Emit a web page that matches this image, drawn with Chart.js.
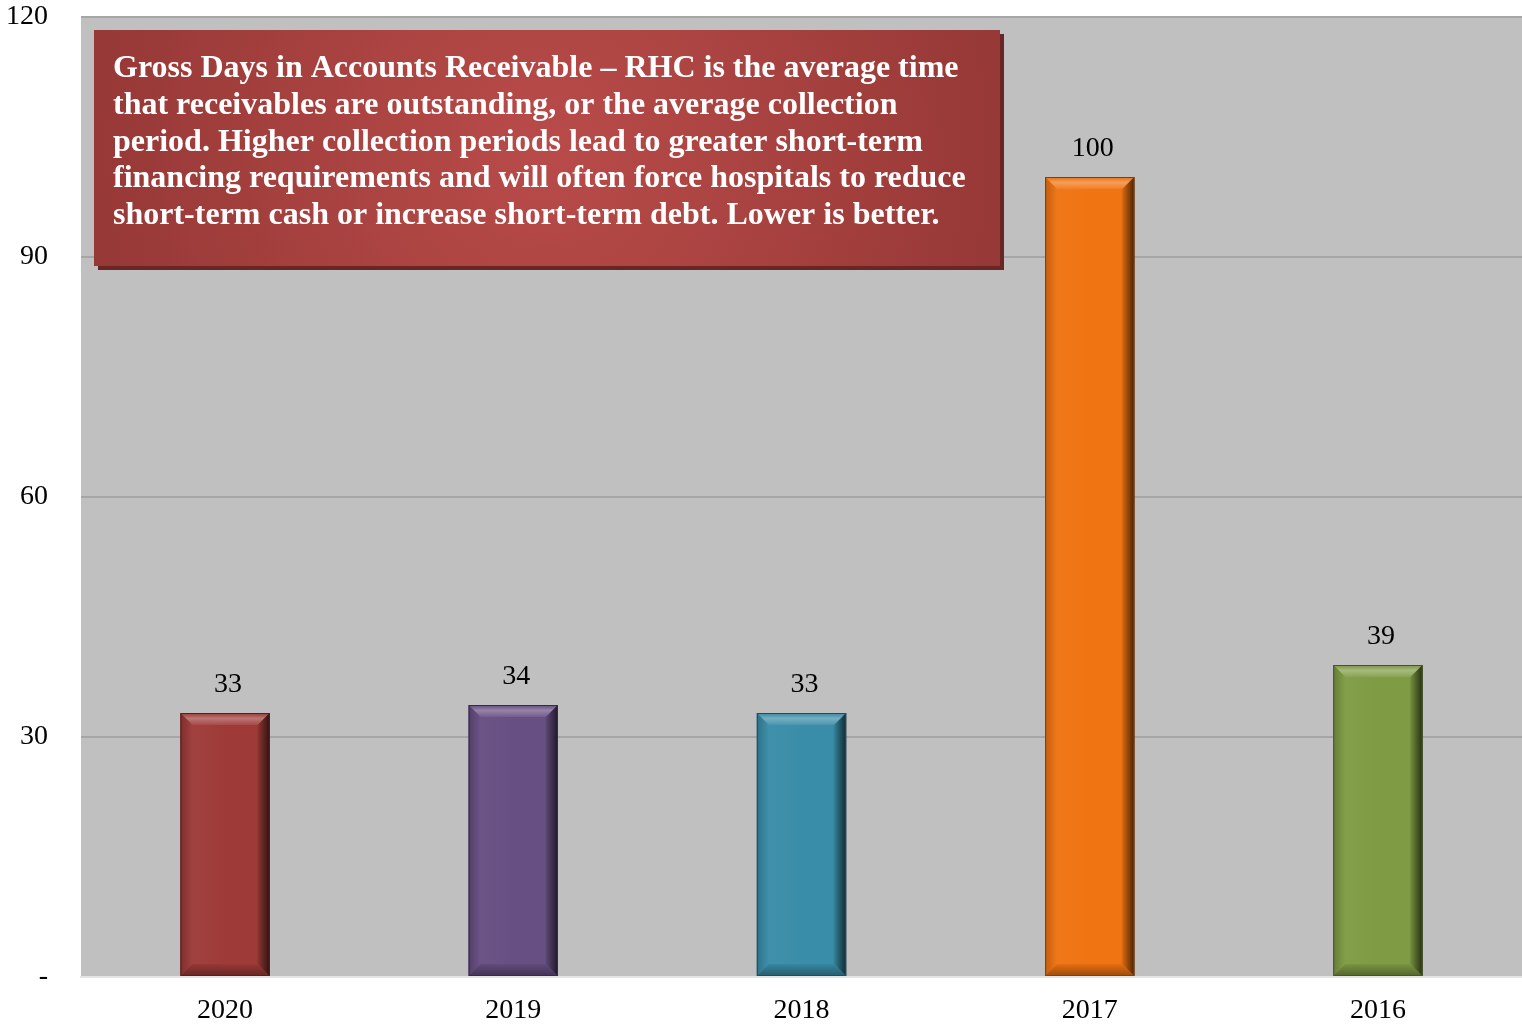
<!DOCTYPE html>
<html lang="en">
<head>
  <meta charset="UTF-8">
  <script src="https://cdn.jsdelivr.net/npm/chart.js"></script>
  <title>Gross Days in Accounts Receivable - RHC</title>
  <style>
    html, body { margin: 0; padding: 0; background: #ffffff; }
    #wrap { position: relative; width: 1522px; height: 1026px; }
  </style>
</head>
<body>
  <div id="wrap">
    <canvas id="grafico"></canvas>
  </div>

<script>
  // dados do gráfico
  const anos = ['2020', '2019', '2018', '2017', '2016'];
  const dias = [33, 34, 33, 100, 39];
  const cores = ['#9e3b39', '#674f83', '#3a8da8', '#f07412', '#7f9c44'];
  const ticksY = [0, 30, 60, 90, 120];

  const textoCaixa = [
    'Gross Days in Accounts Receivable \u2013 RHC is the average time',
    'that receivables are outstanding, or the average collection',
    'period. Higher collection periods lead to greater short-term',
    'financing requirements and will often force hospitals to reduce',
    'short-term cash or increase short-term debt. Lower is better.'
  ];

  const fonte = '"Liberation Serif", "Times New Roman", serif';

  function ajustaCor(hex, f) {
    let r = parseInt(hex.substr(1, 2), 16), g = parseInt(hex.substr(3, 2), 16), b = parseInt(hex.substr(5, 2), 16);
    if (f >= 0) {
      r = r + (255 - r) * f; g = g + (255 - g) * f; b = b + (255 - b) * f;
    } else {
      r = r * (1 + f); g = g * (1 + f); b = b * (1 + f);
    }
    return `rgb(${Math.round(r)}, ${Math.round(g)}, ${Math.round(b)})`;
  }

  // fundo cinza da área do gráfico
  const fundoArea = {
    id: 'fundoArea',
    beforeDraw(chart) {
      const { ctx, chartArea: a } = chart;
      ctx.save();
      ctx.fillStyle = '#c0c0c0';
      ctx.fillRect(a.left, a.top, a.right - a.left, a.bottom - a.top);
      ctx.restore();
    }
  };

  // barras com efeito chanfrado
  const barrasChanfro = {
    id: 'barrasChanfro',
    afterDatasetsDraw(chart) {
      const ctx = chart.ctx;
      const meta = chart.getDatasetMeta(0);
      meta.data.forEach((bar, i) => {
        const cor = cores[i];
        const x0 = bar.x - bar.width / 2, x1 = bar.x + bar.width / 2;
        const y0 = bar.y, y1 = bar.base;
        const b = 12;
        ctx.save();
        // corpo com sombra nas laterais
        const g = ctx.createLinearGradient(x0, 0, x1, 0);
        g.addColorStop(0, ajustaCor(cor, -0.15));
        g.addColorStop(0.12, ajustaCor(cor, 0.03));
        g.addColorStop(0.5, cor);
        g.addColorStop(0.85, cor);
        g.addColorStop(1, ajustaCor(cor, -0.6));
        ctx.fillStyle = g;
        ctx.fillRect(x0, y0, x1 - x0, y1 - y0);
        // chanfro superior
        const gt = ctx.createLinearGradient(0, y0, 0, y0 + b);
        gt.addColorStop(0, ajustaCor(cor, -0.05));
        gt.addColorStop(0.45, ajustaCor(cor, 0.3));
        gt.addColorStop(1, ajustaCor(cor, 0.08));
        ctx.fillStyle = gt;
        ctx.beginPath();
        ctx.moveTo(x0, y0); ctx.lineTo(x1, y0); ctx.lineTo(x1 - b, y0 + b); ctx.lineTo(x0 + b, y0 + b);
        ctx.closePath(); ctx.fill();
        // chanfro direito
        const gr = ctx.createLinearGradient(x1 - b, 0, x1, 0);
        gr.addColorStop(0, ajustaCor(cor, -0.1));
        gr.addColorStop(1, ajustaCor(cor, -0.7));
        ctx.fillStyle = gr;
        ctx.beginPath();
        ctx.moveTo(x1, y0); ctx.lineTo(x1, y1); ctx.lineTo(x1 - b, y1 - b); ctx.lineTo(x1 - b, y0 + b);
        ctx.closePath(); ctx.fill();
        // chanfro esquerdo
        const gl = ctx.createLinearGradient(x0, 0, x0 + b, 0);
        gl.addColorStop(0, ajustaCor(cor, -0.2));
        gl.addColorStop(1, ajustaCor(cor, 0.03));
        ctx.fillStyle = gl;
        ctx.beginPath();
        ctx.moveTo(x0, y0); ctx.lineTo(x0 + b, y0 + b); ctx.lineTo(x0 + b, y1 - b); ctx.lineTo(x0, y1);
        ctx.closePath(); ctx.fill();
        // chanfro inferior
        const gb = ctx.createLinearGradient(0, y1 - b, 0, y1);
        gb.addColorStop(0, ajustaCor(cor, -0.05));
        gb.addColorStop(1, ajustaCor(cor, -0.35));
        ctx.fillStyle = gb;
        ctx.beginPath();
        ctx.moveTo(x0, y1); ctx.lineTo(x0 + b, y1 - b); ctx.lineTo(x1 - b, y1 - b); ctx.lineTo(x1, y1);
        ctx.closePath(); ctx.fill();
        // contorno fino
        ctx.strokeStyle = ajustaCor(cor, -0.45);
        ctx.lineWidth = 1;
        ctx.strokeRect(x0 + 0.5, y0 + 0.5, x1 - x0 - 1, y1 - y0 - 1);
        ctx.restore();

        // rótulo com o valor
        ctx.save();
        ctx.fillStyle = '#000';
        ctx.font = '28px ' + fonte;
        ctx.textAlign = 'center';
        ctx.textBaseline = 'middle';
        ctx.fillText(String(dias[i]), bar.x + 3, bar.y - 28);
        ctx.restore();
      });
    }
  };

  // caixa de texto explicativa
  const caixaTexto = {
    id: 'caixaTexto',
    afterDraw(chart) {
      const ctx = chart.ctx;
      const x = 94, y = 30, w = 906, h = 236;
      ctx.save();
      ctx.fillStyle = '#6a2624';
      ctx.fillRect(x + 4, y + 4, w, h);
      const g = ctx.createRadialGradient(x + w / 2, y + h / 2, 10, x + w / 2, y + h / 2, w * 0.6);
      g.addColorStop(0, '#b84b49');
      g.addColorStop(1, '#903533');
      ctx.fillStyle = g;
      ctx.fillRect(x, y, w, h);
      ctx.fillStyle = '#ffffff';
      ctx.font = 'bold 32px ' + fonte;
      ctx.textAlign = 'left';
      ctx.textBaseline = 'alphabetic';
      textoCaixa.forEach((linha, i) => {
        ctx.fillText(linha, 113, 77 + i * 36.8);
      });
      ctx.restore();
    }
  };

  const config = {
    type: 'bar',
    data: {
      labels: anos,
      datasets: [{
        label: 'Dias',
        data: dias,
        backgroundColor: 'rgba(0,0,0,0)',
        borderWidth: 0,
        barPercentage: 0.31,
        categoryPercentage: 1.0
      }]
    },
    options: {
      responsive: false,
      animation: false,
      layout: { padding: { top: 17, right: 0, left: 0, bottom: 0 } },
      plugins: {
        legend: { display: false },
        tooltip: { enabled: false }
      },
      scales: {
        x: {
          grid: { display: false, drawTicks: false },
          border: { display: true, color: '#e4e4e4', width: 2 },
          ticks: { color: '#000', font: { family: fonte, size: 28 }, padding: 17 },
          afterFit(scale) { scale.height = 49; scale.paddingLeft = 0; scale.paddingRight = 0; }
        },
        y: {
          min: 0,
          max: 120,
          afterBuildTicks(scale) { scale.ticks = ticksY.map(v => ({ value: v })); },
          grid: { color: '#a6a6a6', lineWidth: 2, drawTicks: false },
          border: { display: false },
          ticks: {
            color: '#000',
            font: { family: fonte, size: 28 },
            padding: 33,
            callback: v => v === 0 ? '-' : String(v)
          },
          afterFit(scale) { scale.width = 81; scale.paddingTop = 0; scale.paddingBottom = 0; }
        }
      }
    },
    plugins: [fundoArea, barrasChanfro, caixaTexto]
  };

  const canvas = document.getElementById('grafico');
  canvas.width = 1522;
  canvas.height = 1026;
  new Chart(canvas, config);
</script>
</body>
</html>
